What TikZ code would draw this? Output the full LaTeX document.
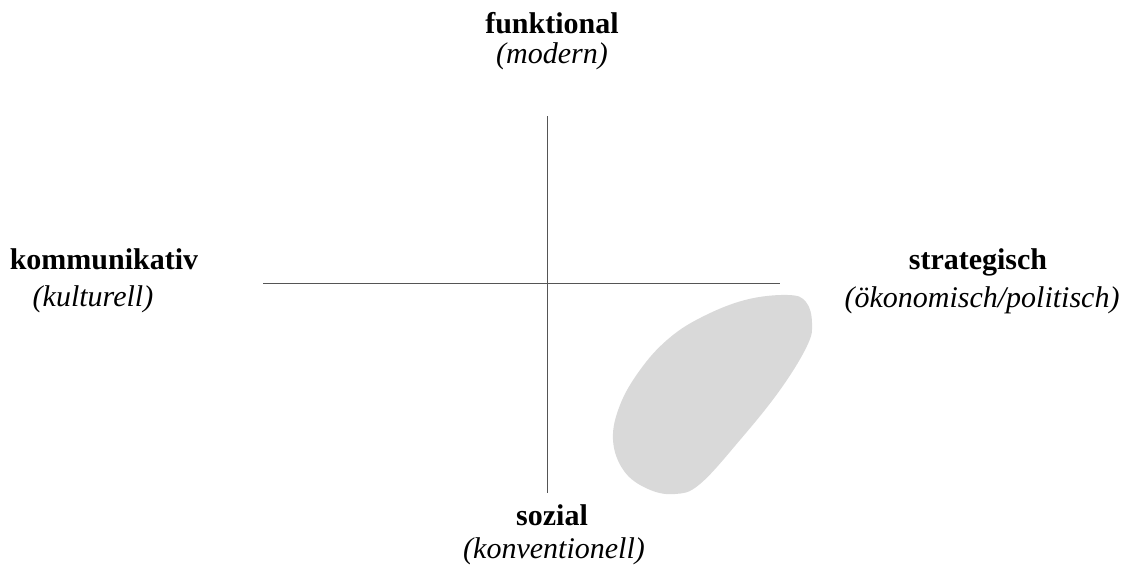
\documentclass[tikz,border=0pt]{standalone}
\usepackage{fontspec}
\setmainfont{Liberation Serif}
\definecolor{blobgray}{HTML}{D9D9D9}
\definecolor{axisgray}{HTML}{555555}
\tikzset{
  axisline/.style={draw=axisgray, line width=1pt},
  mainlabel/.style={anchor=base, inner sep=0pt, font=\fontsize{30}{36}\selectfont\bfseries},
  sublabel/.style={anchor=base, inner sep=0pt, font=\fontsize{30}{36}\selectfont\itshape},
}
\begin{document}
\begin{tikzpicture}[x=1pt,y=-1pt]
\useasboundingbox (0,0) rectangle (1126,565);
% blob
\fill[blobgray] plot[smooth cycle, tension=0.65] coordinates {
  (788,295) (806,302) (812,323) (807,346) (780,390) (740,440)
  (700,484) (675,494) (648,489) (624,471) (613,440) (620,405)
  (640,370) (667,340) (700,318) (745,300)};
% axes
\coordinate (top) at (547,116);
\coordinate (bottom) at (547,493);
\coordinate (left) at (263,283);
\coordinate (right) at (780,283);
\draw[axisline] (top) -- (bottom);
\draw[axisline] (left) -- (right);
% labels
\node[mainlabel] (funk) at (552,33) {funktional};
\node[sublabel] (mod) at (552,63) {(modern)};
\node[mainlabel] (komm) at (104,269) {kommunikativ};
\node[sublabel] (kult) at (93,306) {(kulturell)};
\node[mainlabel] (strat) at (978,269) {strategisch};
\node[sublabel] (oek) at (982,307) {(ökonomisch/politisch)};
\node[mainlabel] (soz) at (552,525) {sozial};
\node[sublabel] (konv) at (554,558) {(konventionell)};
\end{tikzpicture}
\end{document}
